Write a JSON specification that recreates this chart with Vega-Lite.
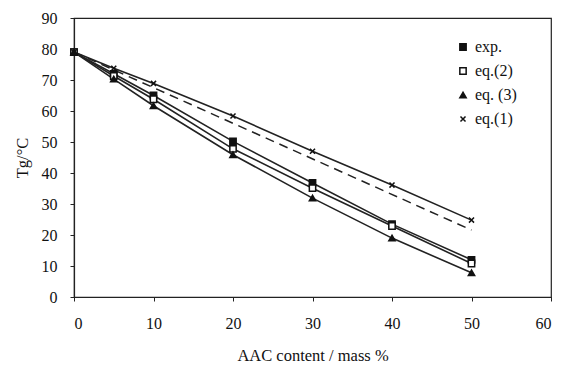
{
  "$schema": "https://vega.github.io/schema/vega-lite/v6.json",
  "width": 477,
  "height": 279,
  "autosize": {"type": "none"},
  "padding": {"left": 74, "top": 18, "right": 15, "bottom": 72},
  "background": "white",
  "config": {
    "view": {"stroke": "#222", "strokeWidth": 1.2},
    "font": "Liberation Serif",
    "axis": {
      "labelFont": "Liberation Serif",
      "titleFont": "Liberation Serif",
      "labelFontSize": 16,
      "titleFontSize": 16.5,
      "labelColor": "#111",
      "titleColor": "#111",
      "titleFontWeight": "normal",
      "domainColor": "#222",
      "domainWidth": 1.2,
      "tickColor": "#222",
      "tickSize": 4,
      "labelOverlap": false,
      "grid": false
    }
  },
  "datasets": {
    "series": [
      {"aac": 0, "tg": 79, "series": "exp."},
      {"aac": 5, "tg": 72, "series": "exp."},
      {"aac": 10, "tg": 65, "series": "exp."},
      {"aac": 20, "tg": 50.2, "series": "exp."},
      {"aac": 30, "tg": 36.8, "series": "exp."},
      {"aac": 40, "tg": 23.5, "series": "exp."},
      {"aac": 50, "tg": 12, "series": "exp."},
      {"aac": 0, "tg": 79, "series": "eq.(2)"},
      {"aac": 5, "tg": 71.3, "series": "eq.(2)"},
      {"aac": 10, "tg": 63.8, "series": "eq.(2)"},
      {"aac": 20, "tg": 47.8, "series": "eq.(2)"},
      {"aac": 30, "tg": 35.1, "series": "eq.(2)"},
      {"aac": 40, "tg": 22.9, "series": "eq.(2)"},
      {"aac": 50, "tg": 10.8, "series": "eq.(2)"},
      {"aac": 0, "tg": 79, "series": "eq. (3)"},
      {"aac": 5, "tg": 70.3, "series": "eq. (3)"},
      {"aac": 10, "tg": 61.7, "series": "eq. (3)"},
      {"aac": 20, "tg": 45.9, "series": "eq. (3)"},
      {"aac": 30, "tg": 31.9, "series": "eq. (3)"},
      {"aac": 40, "tg": 19, "series": "eq. (3)"},
      {"aac": 50, "tg": 7.8, "series": "eq. (3)"},
      {"aac": 0, "tg": 79, "series": "eq.(1)"},
      {"aac": 5, "tg": 73.8, "series": "eq.(1)"},
      {"aac": 10, "tg": 68.9, "series": "eq.(1)"},
      {"aac": 20, "tg": 58.4, "series": "eq.(1)"},
      {"aac": 30, "tg": 47, "series": "eq.(1)"},
      {"aac": 40, "tg": 36.1, "series": "eq.(1)"},
      {"aac": 50, "tg": 24.8, "series": "eq.(1)"}
    ],
    "dashed": [
      {"aac": 0, "tg": 79},
      {"aac": 50, "tg": 21.6}
    ]
  },
  "encoding": {
    "x": {
      "field": "aac", "type": "quantitative",
      "scale": {"domain": [0, 60], "nice": false},
      "axis": {"values": [0, 10, 20, 30, 40, 50, 60], "labelOverlap": false, "labelPadding": 14, "title": "AAC content / mass %", "titleY": 63, "titleBaseline": "alphabetic"}
    },
    "y": {
      "field": "tg", "type": "quantitative",
      "scale": {"domain": [0, 90], "nice": false},
      "axis": {"values": [0, 10, 20, 30, 40, 50, 60, 70, 80, 90], "labelOverlap": false, "labelPadding": 13, "title": "Tg/°C", "titleX": -52, "titleBaseline": "middle"}
    }
  },
  "layer": [
    {
      "data": {"name": "dashed"},
      "mark": {"type": "line", "color": "#222", "strokeWidth": 1.5, "strokeDash": [9, 6]}
    },
    {
      "data": {"name": "series"},
      "mark": {"type": "line", "color": "#222", "strokeWidth": 1.6},
      "encoding": {
        "detail": {"field": "series"}
      }
    },
    {
      "data": {"name": "series"},
      "mark": {"type": "point", "stroke": "#111", "strokeWidth": 1.5, "opacity": 1, "size": 40},
      "encoding": {
        "shape": {
          "field": "series", "type": "nominal",
          "scale": {
            "domain": ["exp.", "eq.(2)", "eq. (3)", "eq.(1)"],
            "range": ["square", "square", "triangle-up", "M-0.8,-0.8L0.8,0.8M-0.8,0.8L0.8,-0.8"]
          },
          "legend": {
            "title": null,
            "orient": "none",
            "legendX": 381,
            "legendY": 21,
            "labelFont": "Liberation Serif",
            "labelFontSize": 16,
            "labelColor": "#111",
            "rowPadding": 8,
            "symbolSize": 40,
            "labelOffset": 4,
            "encode": {"symbols": {"update": {"stroke": {"value": "#111"}, "strokeWidth": {"value": 1.5}}}}
          }
        },
        "fill": {
          "field": "series", "type": "nominal",
          "scale": {
            "domain": ["exp.", "eq.(2)", "eq. (3)", "eq.(1)"],
            "range": ["#111", "white", "#111", "#111"]
          },
          "legend": {
            "title": null,
            "orient": "none",
            "legendX": 381,
            "legendY": 21,
            "labelFont": "Liberation Serif",
            "labelFontSize": 16,
            "labelColor": "#111",
            "rowPadding": 8,
            "symbolSize": 40,
            "labelOffset": 4,
            "encode": {"symbols": {"update": {"stroke": {"value": "#111"}, "strokeWidth": {"value": 1.5}}}}
          }
        }
      }
    }
  ]
}
